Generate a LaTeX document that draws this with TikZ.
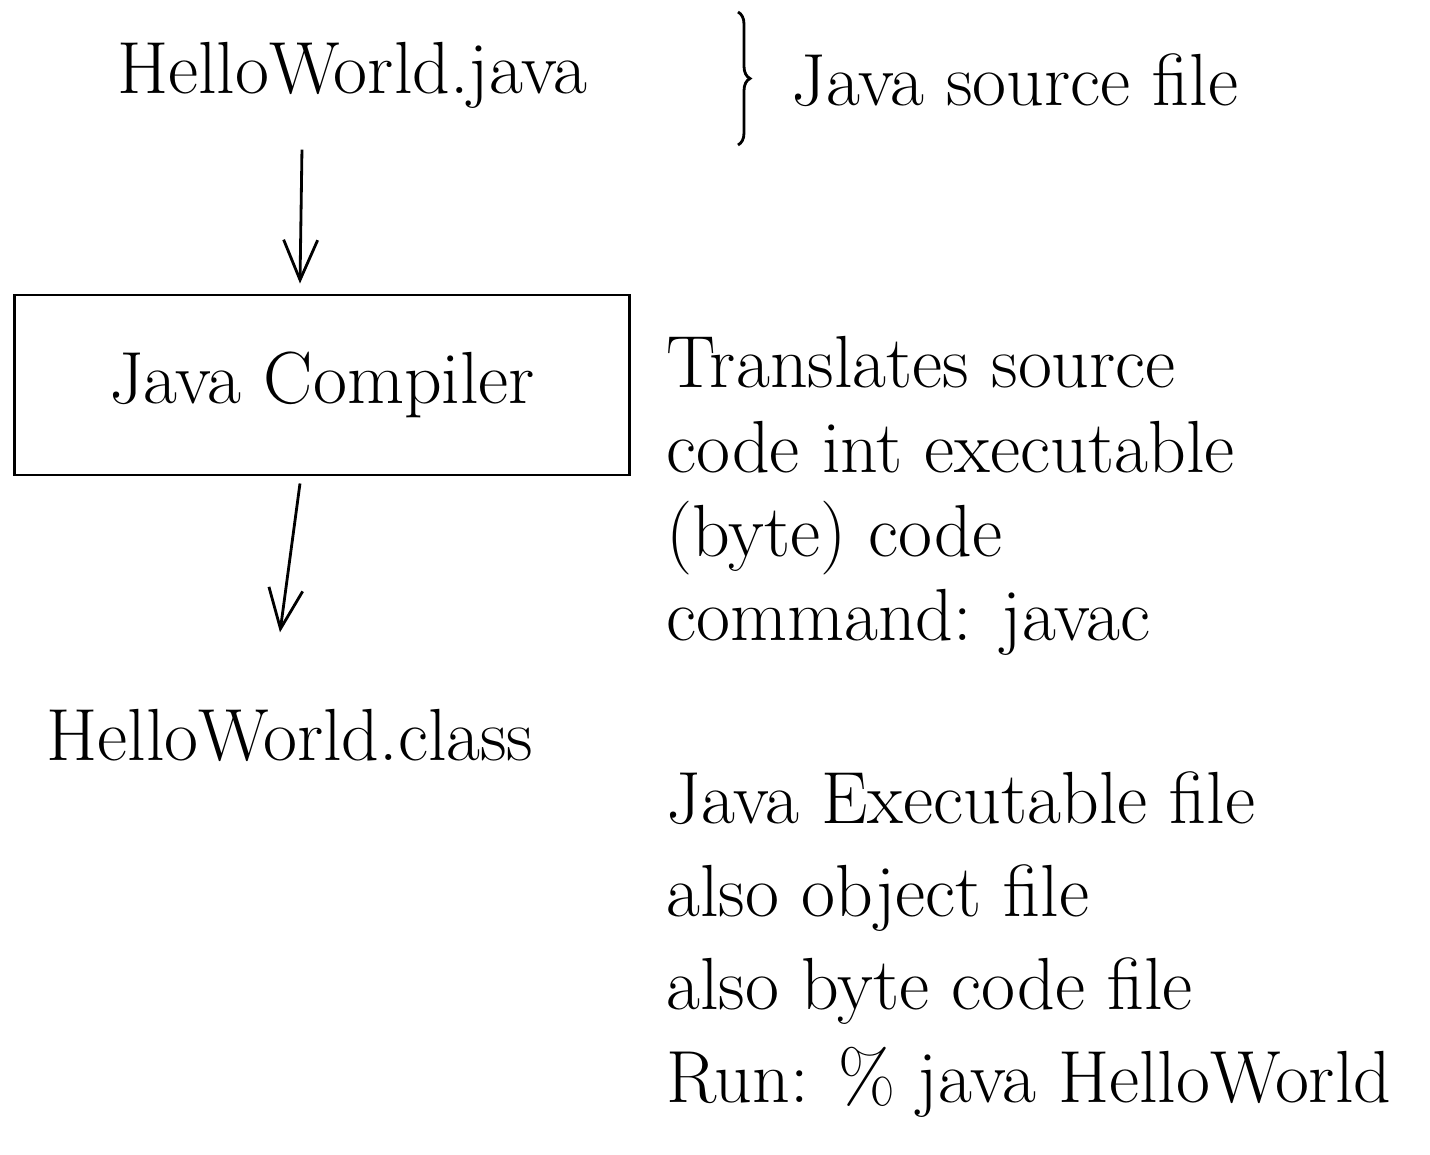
\documentclass[tikz,border=0pt]{standalone}
\usetikzlibrary{arrows.meta,decorations.pathreplacing}

\begin{document}
\begin{tikzpicture}
  [x=0.01cm,y=-0.01cm,thick,
   every node/.style={inner sep=0pt,font=\fontsize{21}{24}\selectfont},
   arr/.style={-{Straight Barb[length=0.4cm,width=0.34cm]}},
   note/.style={anchor=north west,align=left}]
  \useasboundingbox (0,0) rectangle (1430,1154);
  \node (java) at (352,75) {HelloWorld.java};
  \coordinate (btop) at (738,12);
  \coordinate (bbot) at (738,145);
  \node[anchor=west] (srcnote) at (790,80) {Java source file};
  \node[draw,minimum width=6.15cm,minimum height=1.8cm] (comp) at (322,385) {Java Compiler};
  \node (class) at (290,735) {HelloWorld.class};
  \node[note] (transnote) at (665,335) {Translates source\\code int executable\\(byte) code\\command: javac};
  \node[note,font=\fontsize{21}{26.5}\selectfont] (execnote) at (665,770) {Java Executable file\\also object file\\also byte code file\\Run: \% java HelloWorld};
  \draw[decorate,decoration={brace,amplitude=0.12cm}] (btop) -- (bbot);
  \draw[arr] ([xshift=-0.5cm,yshift=-0.4cm]java.south) -- ([xshift=-0.22cm,yshift=0.1cm]comp.north);
  \draw[arr] ([xshift=-0.22cm,yshift=-0.07cm]comp.south) -- ([xshift=-0.1cm,yshift=0.75cm]class.north);
\end{tikzpicture}
\end{document}
